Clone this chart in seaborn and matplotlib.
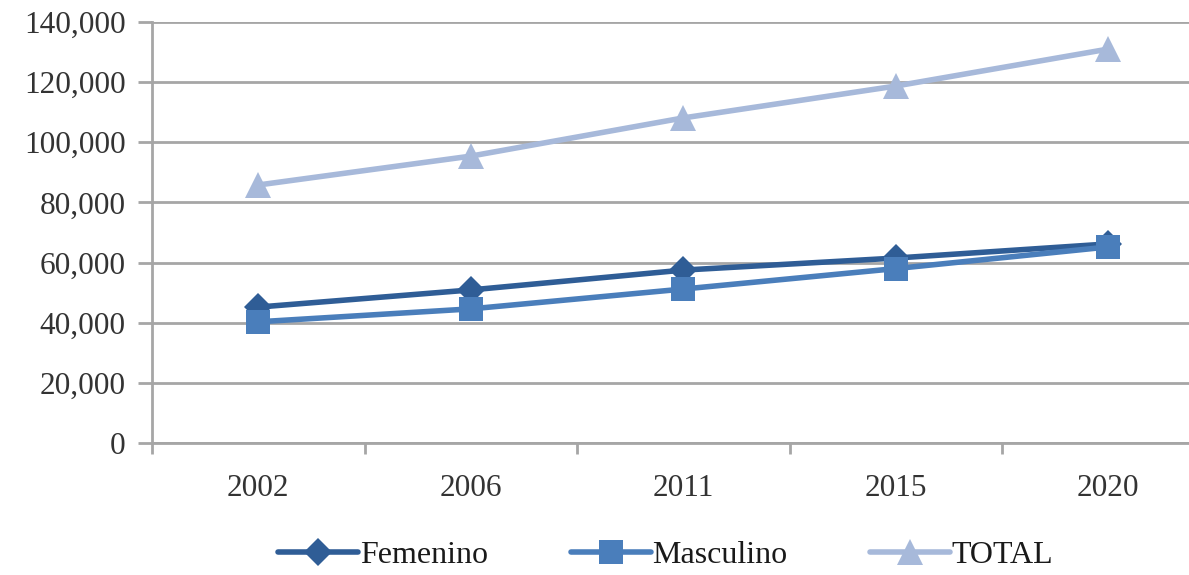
import matplotlib
matplotlib.use("Agg")
import matplotlib.pyplot as plt
import matplotlib.ticker as mticker
from matplotlib.lines import Line2D
import seaborn as sns
import pandas as pd

years = ["2002", "2006", "2011", "2015", "2020"]
femenino = [45200, 50900, 57500, 61500, 66200]
masculino = [40300, 44600, 51200, 58000, 65200]
total = [85800, 95400, 108100, 118700, 131000]
series_names = ["Femenino", "Masculino", "TOTAL"]
colors = ["#2F5D96", "#4A7EBB", "#A7B9DA"]
markers = ["D", "s", "^"]
msizes = [14, 17, 19]
y_ticks = [0, 20000, 40000, 60000, 80000, 100000, 120000, 140000]

rows = []
for name, vals in zip(series_names, [femenino, masculino, total]):
    for i, (yr, v) in enumerate(zip(years, vals)):
        rows.append({"idx": i, "year": yr, "value": v, "serie": name})
df = pd.DataFrame(rows)

sns.set_theme(style="white")
plt.rcParams["font.family"] = ["Liberation Serif", "DejaVu Serif"]

fig = plt.figure(figsize=(11.89, 5.75), dpi=100)
ax = fig.add_axes([152 / 1189, 1 - 443 / 575, (1189 - 152) / 1189, (443 - 22) / 575])

for name, c, m, ms in zip(series_names, colors, markers, msizes):
    sns.lineplot(
        data=df[df["serie"] == name], x="idx", y="value",
        color=c, marker=m, markersize=ms, markeredgewidth=0,
        linewidth=4.0, ax=ax, legend=False,
    )

ax.set_yticks(y_ticks)
ax.yaxis.set_major_formatter(mticker.FuncFormatter(lambda v, p: f"{int(v):,}"))
ax.set_xticks(range(len(years)))
ax.set_xticklabels(years)
ax.set_xticks([i + 0.5 for i in range(-1, len(years) - 1)], minor=True)
ax.set_xlim(-0.5, -0.5 + (1189 - 152) / 212.5)
ax.set_ylim(0, 140000)
ax.set_xlabel("")
ax.set_ylabel("")

gridc = "#A6A6A6"
ax.grid(axis="y", color=gridc, linewidth=2)
ax.grid(axis="x", visible=False)
ax.set_axisbelow(True)
for s in ["top", "right"]:
    ax.spines[s].set_visible(False)
for s in ["left", "bottom"]:
    ax.spines[s].set_color(gridc)
    ax.spines[s].set_linewidth(2)

ax.tick_params(axis="y", which="major", length=10, width=2, color=gridc,
               labelsize=22.5, labelcolor="#333333", pad=9, left=True)
ax.tick_params(axis="x", which="major", length=0, labelsize=22.5,
               labelcolor="#333333", pad=22)
ax.tick_params(axis="x", which="minor", length=8, width=2, color=gridc,
               bottom=True)

handles = [Line2D([0], [0], color=c, marker=m, linewidth=4.0, markersize=ms,
                  markeredgewidth=0) for c, m, ms in zip(colors, markers, msizes)]
fig.legend(handles, series_names, loc="center", bbox_to_anchor=(0.56, 1 - 555 / 575),
           ncol=3, frameon=False, fontsize=23, handlelength=2.5,
           columnspacing=2.6, handletextpad=0.05,
           labelcolor="#1A1A1A")

fig.savefig("out.png", dpi=100)
